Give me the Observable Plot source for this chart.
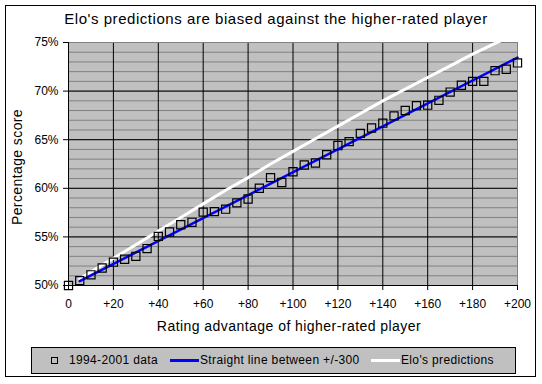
<!DOCTYPE html>
<html>
<head>
<meta charset="utf-8">
<script src="https://cdn.jsdelivr.net/npm/d3@7"></script>
<script src="https://cdn.jsdelivr.net/npm/@observablehq/plot@0.6"></script>
<style>
  html, body { margin: 0; padding: 0; background: #fff; }
  #wrap { position: relative; width: 542px; height: 384px; font-family: "Liberation Sans", Arial, sans-serif; color: #000; overflow: hidden; }
  #border { position: absolute; left: 5px; top: 5px; width: 531px; height: 372px; border: 1px solid #000; box-sizing: border-box; }
  #chart { position: absolute; left: 0; top: 0; }
  .abs { position: absolute; white-space: nowrap; }
  #title { left: 276px; top: 18px; font-size: 15px; letter-spacing: 0.55px; transform: translate(-50%, -50%); }
  #ylab { left: 17px; top: 167px; font-size: 14px; letter-spacing: 0.4px; transform: translate(-50%, -50%) rotate(-90deg); }
  #xlab { left: 289px; top: 326px; font-size: 14px; letter-spacing: 0.45px; transform: translate(-50%, -50%); }
  #legend { position: absolute; left: 31px; top: 347px; width: 485px; height: 27px; background: #c0c0c0; border: 1px solid #000; box-sizing: border-box; font-size: 12px; letter-spacing: 0.35px; }
  .lt { position: absolute; top: 5px; }
</style>
</head>
<body>
<div id="wrap">
  <div id="border"></div>
  <div id="title" class="abs">Elo's predictions are biased against the higher-rated player</div>
  <div id="chart"></div>
  <div id="ylab" class="abs">Percentage score</div>
  <div id="xlab" class="abs">Rating advantage of higher-rated player</div>
  <div id="legend">
    <div style="position:absolute;left:19px;top:9px;width:7px;height:7px;border:1px solid #000;box-sizing:border-box;"></div>
    <span class="lt" style="left:37px;">1994-2001 data</span>
    <div style="position:absolute;left:138px;top:11px;width:29px;height:3px;background:#0000ff;"></div>
    <span class="lt" style="left:168px;">Straight line between +/-300</span>
    <div style="position:absolute;left:339px;top:11px;width:29px;height:3px;background:#ffffff;"></div>
    <span class="lt" style="left:369px;">Elo's predictions</span>
  </div>
</div>
<script>
// ---- data ----
const ratingDiff = [0,5,10,15,20,25,30,35,40,45,50,55,60,65,70,75,80,85,90,95,100,
  105,110,115,120,125,130,135,140,145,150,155,160,165,170,175,180,185,190,195,200];
const observedScore = [50.0,50.5,51.1,51.8,52.4,52.7,53.0,53.8,55.05,55.5,56.25,56.5,57.55,57.6,57.85,58.5,58.9,60.0,61.1,60.6,61.7,
  62.4,62.6,63.45,64.4,64.8,65.65,66.2,66.7,67.45,68.0,68.5,68.55,69.05,69.9,70.6,71.0,71.0,72.1,72.25,72.9];

const straightX = [5, 200];
const straightY = [50.45, 73.45];

const eloX = [5,10,20,30,40,50,60,70,80,90,100,110,120,130,140,150,160,170,180,190,200];
const eloY = [50.7,51.4,52.8,54.2,55.6,57.0,58.4,59.8,61.1,62.5,63.8,65.1,66.4,67.7,69.0,70.2,71.4,72.6,73.8,74.9,76.0];

const xTicks = [0,20,40,60,80,100,120,140,160,180,200];
const xTickLabels = ["0","+20","+40","+60","+80","+100","+120","+140","+160","+180","+200"];
const yTicks = [50,55,60,65,70,75];
const yTickLabels = ["50%","55%","60%","65%","70%","75%"];
const yMinor = d3.range(50, 76, 1);

const points = ratingDiff.map((x, i) => ({x, y: observedScore[i]}));
const straight = straightX.map((x, i) => ({x, y: straightY[i]}));
const elo = eloX.map((x, i) => ({x, y: eloY[i]}));

const chart = Plot.plot({
  width: 542,
  height: 384,
  marginLeft: 68,
  marginRight: 25,
  marginTop: 42,
  marginBottom: 99,
  style: { fontFamily: "Liberation Sans, Arial, sans-serif", fontSize: "12px", background: "transparent", overflow: "visible", color: "#000" },
  x: { domain: [0, 200] },
  y: { domain: [50, 75] },
  marks: [
    Plot.frame({ fill: "#c0c0c0", stroke: "none" }),
    Plot.ruleY(yMinor, { stroke: "#808080", strokeWidth: 1 }),
    Plot.ruleY(yTicks, { stroke: "#000", strokeWidth: 1 }),
    Plot.ruleX(xTicks, { stroke: "#000", strokeWidth: 1 }),
    Plot.frame({ stroke: "#808080", fill: "none" }),
    Plot.ruleX([0], { stroke: "#000" }),
    Plot.ruleY([50], { stroke: "#000" }),
    Plot.axisY({ ticks: yTicks, tickFormat: d => yTickLabels[yTicks.indexOf(d)], tickSize: 5, tickPadding: 5, label: null, fontSize: 12 }),
    Plot.axisX({ ticks: xTicks, tickFormat: d => xTickLabels[xTicks.indexOf(d)], tickSize: 5, tickPadding: 9, label: null, fontSize: 12 }),
    Plot.line(elo, { x: "x", y: "y", stroke: "#ffffff", strokeWidth: 3, clip: true }),
    Plot.line(straight, { x: "x", y: "y", stroke: "#0000ff", strokeWidth: 2.5 }),
    Plot.dot(points, { x: "x", y: "y", symbol: "square", r: 4.6, stroke: "#000", strokeWidth: 1.2, fill: "none" })
  ]
});
document.getElementById("chart").appendChild(chart);
</script>
</body>
</html>
